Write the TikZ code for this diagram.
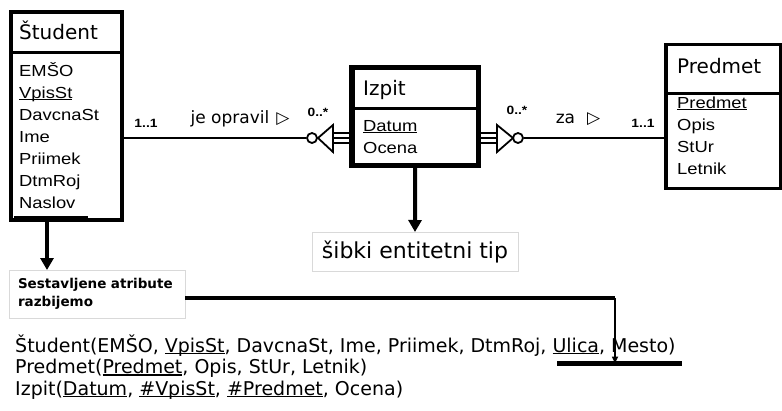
\documentclass[tikz,border=0pt]{standalone}
\usepackage{fontspec}
\setmainfont{DejaVu Sans}
\newfontfamily\attrfont[FakeStretch=1.15]{Liberation Sans}
\usetikzlibrary{arrows.meta}
\newsavebox\ulbox
% underline sitting just below the baseline
\newcommand\ulin[1]{\sbox\ulbox{#1}\rlap{\rule[-2.4pt]{\wd\ulbox}{1.5pt}}\usebox\ulbox}
\begin{document}
\begin{tikzpicture}[x=1pt,y=-1pt,
  entity/.style={draw, inner sep=0pt, outer sep=0pt, anchor=north west},
  title/.style={anchor=base west, inner sep=0pt, font=\fontsize{20}{24}\selectfont},
  attr/.style={anchor=base west, inner sep=0pt, font=\attrfont\fontsize{16}{19}\selectfont},
  mult/.style={inner sep=0pt, font=\attrfont\bfseries\fontsize{12}{14}\selectfont},
  rel/.style={inner sep=0pt, font=\fontsize{17}{20}\selectfont},
  conn/.style={line width=2pt},
  sym/.style={line width=1.8pt, line join=miter},
  ring/.style={circle, draw, line width=1.8pt, minimum size=10pt, inner sep=0pt, fill=white},
  note/.style={draw=black!15, line width=0.8pt, inner sep=0pt, outer sep=0pt},
  heavy/.style={line width=4pt, -{Triangle[length=12pt,width=13pt]}},
  relline/.style={anchor=base west, inner sep=0pt, font=\fontsize{19}{23}\selectfont}
]
\useasboundingbox (0,0) rectangle (782,410);

% ---- entity Študent
\node[entity, line width=4pt, minimum width=111.5pt, minimum height=208pt] (stud) at (10.5,12) {};
\draw[line width=3pt] ([yshift=-40.5pt]stud.north west) -- ([yshift=-40.5pt]stud.north east);
\node[title] (studT) at (19,39.5) {Študent};
\foreach \t [count=\i] in {EMŠO,\ulin{VpisSt},DavcnaSt,Ime,Priimek,DtmRoj,Naslov}
  \node[attr] (sa\i) at (19,76+22*\i-22) {\t};

% ---- entity Izpit (weak)
\node[entity, line width=5.5pt, minimum width=126.5pt, minimum height=98pt] (izpit) at (352,67.5) {};
\draw[line width=3pt] ([yshift=-41pt]izpit.north west) -- ([yshift=-41pt]izpit.north east);
\node[title] (izT) at (363,95) {Izpit};
\node[attr] (ia1) at (363,131) {\ulin{Datum}};
\node[attr] (ia2) at (363,153) {Ocena};

% ---- entity Predmet
\node[entity, line width=3.5pt, minimum width=115pt, minimum height=144pt] (pred) at (666,44.5) {};
\draw[line width=2.5pt] ([yshift=-49pt]pred.north west) -- ([yshift=-49pt]pred.north east);
\node[title] (prT) at (677,73) {Predmet};
\foreach \t [count=\i] in {\ulin{Predmet},Opis,StUr,Letnik}
  \node[attr] (pa\i) at (677,108+22*\i-22) {\t};

% ---- relationship Študent -- Izpit
\node[ring] (lc) at (312,138) {};
\coordinate (la) at (318,138);
\draw[sym] (333,125) -- (la) -- (333,152) -- cycle;
\foreach \y in {133,138,143}
  \draw[line width=1.5pt] (333,\y) -- (izpit.west |- 0,\y);
\draw[conn] (stud.east |- lc) -- (lc);
\node[mult] (m1) at (146,123) {1..1};
\node[rel] (r1) at (240,119) {je opravil\hspace{7pt}▷};
\node[mult] (m2) at (318,112) {0..*};

% ---- relationship Izpit -- Predmet
\node[ring] (rc) at (518,138) {};
\coordinate (ra) at (513,138);
\draw[sym] (497,125) -- (ra) -- (497,152) -- cycle;
\foreach \y in {133,138,143}
  \draw[line width=1.5pt] (izpit.east |- 0,\y) -- (497,\y);
\draw[conn] (rc) -- (pred.west |- rc);
\node[mult] (m3) at (517,110) {0..*};
\node[rel] (r2) at (578,119) {za\hspace{12pt}▷};
\node[mult] (m4) at (643,123) {1..1};

% ---- notes
\node[note, minimum width=206pt, minimum height=39pt, font=\fontsize{22}{26}\selectfont] (weak) at (415,251.5) {šibki entitetni tip};
\draw[heavy] (izpit.south) -- (weak.north);

\node[note, anchor=north west, minimum width=176pt, minimum height=48pt, text width=158pt, align=left,
      font=\bfseries\fontsize{13.5}{17.5}\selectfont] (sest) at (9,270) {Sestavljene atribute\\razbijemo};
\coordinate (nbL) at (14,218.5);
\coordinate (nbR) at (88,218.5);
\draw[line width=5pt] (nbL) -- (nbR);
\draw[heavy] (47,221) -- (sest.north -| 47,0);

% ---- relational schema
\node[relline] (s1) at (15,352) {Študent(EMŠO, \ulin{VpisSt}, DavcnaSt, Ime, Priimek, DtmRoj, \ulin{Ulica}, Mesto)};
\node[relline] (s2) at (15,373.5) {Predmet(\ulin{Predmet}, Opis, StUr, Letnik)};
\node[relline] (s3) at (15,395) {Izpit(\ulin{Datum}, \ulin{\#VpisSt}, \ulin{\#Predmet}, Ocena)};

\coordinate (ubL) at (557,363.5);
\coordinate (ubR) at (682,363.5);
\draw[line width=5pt] (ubL) -- (ubR);
\coordinate (bend) at (615,298);
\draw[line width=4pt] ([yshift=-4pt]sest.east) -- (bend);
\draw[line width=1.6pt, -{Triangle[length=7pt,width=6pt]}] (bend) -- (ubL -| bend);
\end{tikzpicture}
\end{document}
